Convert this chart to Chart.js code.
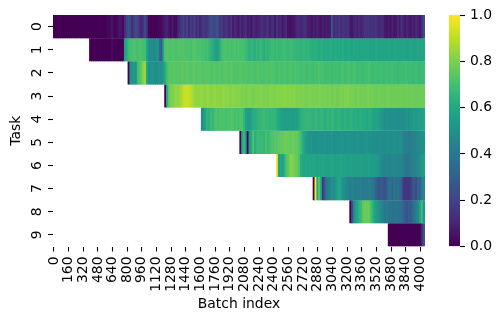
<!DOCTYPE html>
<html><head><meta charset="utf-8">
<script src="https://cdn.jsdelivr.net/npm/chart.js@4/dist/chart.umd.min.js"></script>
<style>html,body{margin:0;padding:0;background:#fff;overflow:hidden}
#wrap{position:relative;width:501px;height:321px}
canvas{position:absolute;top:0}
#hm{left:0}#cb{left:449px}</style></head>
<body><div id="wrap"><canvas id="hm" width="501" height="321"></canvas><canvas id="cb" width="52" height="321"></canvas></div>
<script>
const BIN_BATCHES = 20;
const BIN_COUNT = 203;
const TICK_EVERY_BINS = 8;
const taskStart = [0,20,41,61,81,102,122,142,162,183];
const task0 = [
0,0,0,0,0,0,0,0,0,0,
0,0,0,0,0,0,0,0,0,0,
0,0,0,0,0,0,0,0,0,.01,
.02,.02,.06,.02,.01,.03,.06,.05,.02,.12,
.2,.25,.22,.12,.18,.22,.2,.14,.1,.16,
.22,.15,.02,.01,.01,.01,.01,.01,.02,.03,
.05,.08,.1,.06,.03,.08,.03,.03,.1,.14,
.16,.2,.14,.2,.12,.18,.14,.2,.12,.16,
.1,.14,.18,.14,.16,.2,.24,.22,.2,.25,
.22,.15,.18,.12,.16,.14,.1,.15,.08,.12,
.1,.06,.13,.08,.1,.14,.07,.1,.05,.12,
.09,.08,.1,.12,.14,.1,.12,.15,.08,.12,
.14,.06,.15,.1,.12,.06,.09,.12,.05,.04,
.05,.06,.08,.12,.13,.1,.12,.14,.12,.08,
.08,.05,.09,.06,.1,.07,.05,.09,.06,.08,
.07,.08,.28,.11,.15,.13,.17,.12,.15,.14,
.13,.15,.07,.06,.1,.12,.08,.13,.09,.12,
.15,.14,.16,.13,.15,.14,.16,.12,.1,.13,
.12,.07,.06,.08,.05,.1,.05,.07,.12,.08,
.14,.1,.06,.12,.08,.06,.1,.07,.12,.09,
.06,.11,.22];
const task1 = [
0,0,0,0,0,0,0,0,0,0,
0,0,.03,0,0,0,0,0,0,.55,
.62,.68,.7,.7,.72,.71,.7,.72,.71,.7,
.7,.6,.5,.48,.5,.45,.5,.52,.35,.28,
.6,.72,.73,.72,.71,.73,.72,.71,.72,.73,
.72,.73,.72,.71,.72,.7,.72,.73,.72,.71,
.72,.7,.71,.68,.7,.67,.64,.62,.58,.56,
.58,.64,.7,.71,.72,.7,.72,.7,.71,.72,
.7,.72,.7,.71,.7,.68,.66,.62,.66,.64,
.62,.66,.63,.68,.65,.62,.66,.64,.66,.68,
.68,.66,.68,.66,.67,.68,.69,.68,.67,.68,
.68,.67,.66,.65,.66,.64,.66,.65,.64,.65,
.64,.63,.62,.64,.62,.61,.63,.62,.6,.62,
.6,.62,.61,.6,.62,.6,.61,.6,.62,.6,
.6,.61,.6,.59,.6,.59,.6,.58,.6,.59,
.6,.59,.6,.58,.59,.58,.6,.59,.58,.59,
.58,.59,.58,.6,.59,.58,.59,.6,.58,.59,
.58,.59,.58,.57,.58,.59,.58,.57,.58,.59,
.58,.59,.58];
const task2 = [
0,.52,.5,.55,.5,.68,.72,.76,.82,
.86,.6,.5,.5,.52,.5,.48,.5,.52,.5,
.55,.62,.7,.73,.74,.73,.75,.73,.74,.73,
.75,.74,.73,.75,.74,.73,.74,.75,.73,.74,
.74,.73,.72,.74,.73,.74,.72,.73,.74,.72,
.73,.74,.72,.73,.74,.73,.72,.74,.73,.72,
.73,.72,.74,.73,.72,.73,.71,.72,.73,.72,
.71,.72,.73,.71,.72,.71,.73,.72,.71,.73,
.72,.71,.7,.72,.71,.7,.72,.71,.7,.72,
.71,.7,.72,.7,.71,.69,.7,.71,.69,.7,
.71,.7,.69,.71,.7,.72,.7,.71,.69,.7,
.69,.7,.68,.7,.69,.7,.68,.7,.71,.69,
.7,.72,.7,.69,.71,.7,.68,.7,.69,.68,
.7,.69,.71,.7,.68,.69,.7,.68,.69,.7,
.68,.69,.7,.68,.69,.7,.68,.69,.67,.68,
.69,.68,.7,.69,.68,.69,.67,.68,.69,.68,
.67,.68,.68];
const task3 = [
0,.62,.74,.8,.8,.82,.84,.83,.84,
.87,.9,.92,.92,.91,.89,.87,.84,.83,.84,
.83,.84,.83,.82,.84,.83,.82,.83,.84,.82,
.83,.82,.83,.84,.82,.83,.82,.81,.83,.82,
.81,.82,.81,.8,.81,.79,.8,.81,.8,.79,
.8,.81,.8,.82,.81,.8,.81,.8,.82,.81,
.81,.8,.82,.81,.82,.81,.83,.82,.81,.82,
.81,.82,.81,.8,.81,.8,.81,.8,.79,.8,
.81,.8,.79,.8,.79,.81,.8,.79,.8,.79,
.79,.8,.78,.79,.8,.78,.79,.8,.79,.81,
.8,.81,.79,.8,.79,.78,.8,.79,.78,.79,
.78,.79,.8,.78,.79,.78,.77,.78,.79,.77,
.78,.77,.78,.79,.77,.78,.77,.78,.77,.78,
.78,.77,.77,.78,.77,.77,.78,.77,.77,.77,
.77,.78,.78];
const task4 = [
.48,.52,.6,.65,.63,.68,.66,.7,.72,
.7,.72,.71,.72,.7,.72,.71,.73,.72,.7,
.72,.7,.72,.71,.66,.58,.55,.54,.57,.62,
.62,.64,.66,.65,.67,.68,.66,.67,.65,.66,
.65,.66,.62,.6,.58,.57,.56,.55,.56,.55,
.56,.55,.57,.56,.6,.63,.64,.65,.66,.65,
.66,.65,.64,.66,.65,.64,.66,.65,.63,.64,
.65,.64,.66,.65,.63,.64,.65,.63,.62,.64,
.63,.62,.64,.63,.62,.63,.61,.62,.63,.61,
.62,.6,.61,.62,.6,.58,.59,.58,.56,.54,
.52,.5,.51,.5,.49,.51,.5,.49,.5,.48,
.5,.49,.5,.52,.5,.53,.52,.55,.53,.56,
.55,.57,.58];
const task5 = [
0,.6,.66,.55,0,.55,.6,.72,
.62,.66,.68,.66,.68,.65,.7,.67,.69,.72,
.72,.74,.73,.75,.76,.75,.77,.78,.77,.76,
.76,.78,.75,.76,.73,.7,.62,.58,.54,.52,
.5,.52,.5,.51,.5,.52,.51,.5,.52,.5,
.51,.5,.52,.49,.5,.51,.5,.52,.51,.5,
.5,.52,.5,.51,.49,.5,.52,.5,.49,.51,
.5,.52,.5,.51,.5,.49,.5,.48,.49,.5,
.48,.5,.49,.5,.48,.49,.5,.49,.48,.5,
.48,.45,.42,.43,.41,.42,.44,.43,.45,.46,
.48,.5,.5];
const task6 = [
1,.55,.6,.55,.62,.72,.74,.8,
.82,.8,.78,.76,.72,.62,.6,.58,.6,.58,
.59,.58,.6,.58,.57,.59,.58,.6,.58,.57,
.58,.57,.59,.58,.56,.58,.57,.59,.57,.58,
.57,.56,.58,.57,.56,.57,.55,.56,.57,.55,
.56,.55,.57,.55,.54,.55,.53,.54,.5,.48,
.46,.45,.47,.44,.46,.45,.47,.46,.45,.44,
.46,.42,.4,.38,.4,.42,.44,.43,.46,.48,
.5,.54,.55];
const task7 = [
0,1,.62,.72,.6,.15,.28,.4,
.42,.46,.5,.48,.52,.56,.6,.55,.5,.48,
.46,.44,.42,.45,.43,.42,.44,.42,.43,.4,
.42,.4,.43,.42,.4,.38,.32,.28,.25,.3,
.26,.24,.3,.36,.38,.33,.4,.36,.38,.35,
.3,.17,.15,.16,.15,.18,.25,.28,.22,.33,
.3,.42,.45];
const task8 = [
0,.25,.45,.55,.6,.65,.68,.75,
.78,.76,.78,.72,.66,.6,.55,.52,.5,.46,
.42,.4,.42,.38,.4,.38,.37,.4,.38,.37,
.36,.32,.28,.25,.3,.28,.35,.38,.42,.48,
.55,.7,.52];
const task9 = [
0,0,0,0,0,0,0,
0,0,0,0,0,0,0,0,0,0,0,
.1,.26];
const tasks = [task0,task1,task2,task3,task4,task5,task6,task7,task8,task9];
const colorbarTicks = [0,0.2,0.4,0.6,0.8,1];
const viridis = ['#440154','#482475','#414487','#355f8d','#2a788e','#21918c','#22a884','#44bf70','#7ad151','#bddf26','#fde725'];
const rgb = viridis.map(h=>[1,3,5].map(i=>parseInt(h.substr(i,2),16)));
function cmap(v){
  const t=Math.min(.9999,Math.max(0,v))*10,i=Math.floor(t),f=t-i;
  const c=rgb[i].map((a,k)=>Math.round(a+(rgb[i+1][k]-a)*f));
  return `rgb(${c[0]},${c[1]},${c[2]})`;
}
const FONT={family:'"DejaVu Sans"',size:13.9};
const labels=Array.from({length:BIN_COUNT},(_,i)=>String(i*BIN_BATCHES));
const datasets=tasks.map((vals,r)=>{
  const data=new Array(BIN_COUNT).fill(null);const bg=new Array(BIN_COUNT).fill('transparent');
  vals.forEach((v,i)=>{const k=taskStart[r]+i;if(k<BIN_COUNT){data[k]=[r,r+1];bg[k]=cmap(v);}});
  return {label:'Task '+r,data,backgroundColor:bg,borderWidth:0,barPercentage:1.6,categoryPercentage:1,grouped:false};
});
Chart.defaults.animation=false;
new Chart(document.getElementById('hm'),{
  type:'bar',
  data:{labels,datasets},
  options:{responsive:false,animation:false,
    layout:{padding:{top:15,right:76,left:0,bottom:0}},
    plugins:{legend:{display:false},tooltip:{enabled:false}},
    scales:{
      x:{type:'category',offset:true,
        afterBuildTicks:s=>{s.ticks=s.ticks.filter(t=>t.value%TICK_EVERY_BINS===0);},
        afterFit:s=>{s.height=74.5;s.paddingLeft=0;s.paddingRight=0;},
        grid:{display:true,drawOnChartArea:false,drawTicks:true,tickLength:5,tickWidth:1.1,tickColor:'#000',offset:false},
        border:{display:false},
        ticks:{autoSkip:false,minRotation:90,maxRotation:90,padding:5,color:'#000',font:FONT},
        title:{display:true,text:'Batch index',color:'#000',font:FONT,padding:{top:0,bottom:8}}
      },
      y:{type:'linear',min:0,max:10,reverse:true,
        afterBuildTicks:s=>{s.ticks=[0,1,2,3,4,5,6,7,8,9].map(v=>({value:v+.5}));},
        afterFit:s=>{s.width=53;},
        grid:{display:true,drawOnChartArea:false,drawTicks:true,tickLength:5,tickWidth:1.1,tickColor:'#000'},
        border:{display:false},
        ticks:{autoSkip:false,minRotation:90,maxRotation:90,crossAlign:'center',padding:6,color:'#000',font:FONT,callback:v=>String(Math.floor(v))},
        title:{display:true,text:'Task',color:'#000',font:FONT,padding:{top:8,bottom:0}}
      }
    }
  }
});
new Chart(document.getElementById('cb'),{
  type:'bar',
  data:{labels:['colorbar'],datasets:[{data:[[0,1]],borderWidth:0,barPercentage:1,categoryPercentage:1,
    backgroundColor:ctx=>{
      const a=ctx.chart.chartArea;if(!a)return '#000';
      const g=ctx.chart.ctx.createLinearGradient(0,a.bottom,0,a.top);
      viridis.forEach((c,i)=>g.addColorStop(i/10,c));return g;
    }}]},
  options:{responsive:false,animation:false,
    layout:{padding:{top:15,bottom:74.5,left:0,right:0}},
    plugins:{legend:{display:false},tooltip:{enabled:false}},
    scales:{
      x:{display:false},
      y:{position:'right',min:0,max:1,
        afterBuildTicks:s=>{s.ticks=colorbarTicks.map(v=>({value:v}));},
        afterFit:s=>{s.width=41;},
        grid:{display:true,drawOnChartArea:false,drawTicks:true,tickLength:5,tickWidth:1.1,tickColor:'#000'},
        border:{display:false},
        ticks:{padding:5,color:'#000',font:FONT,callback:v=>v.toFixed(1)}
      }
    }
  }
});
</script></body></html>
